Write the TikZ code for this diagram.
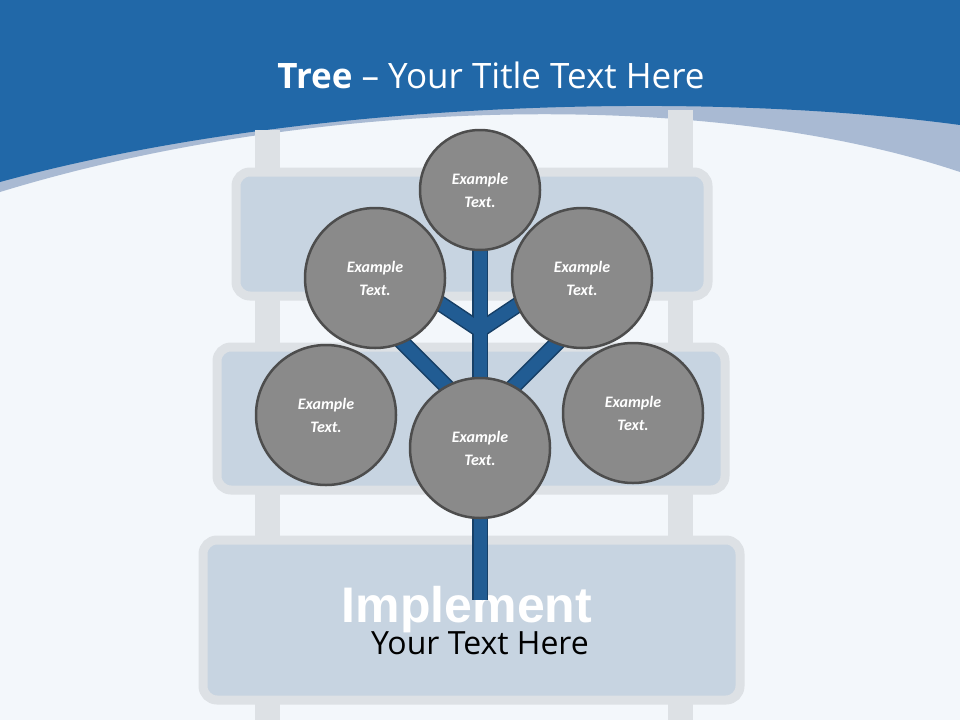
\documentclass[tikz,border=0pt]{standalone}
\usepackage{fontspec}
\setmainfont{Open Sans}
\newfontfamily\carlitofont{Carlito}
\newfontfamily\arialfont{Liberation Sans}
\definecolor{bgc}{HTML}{F3F7FB}
\definecolor{topblue}{HTML}{2168A8}
\definecolor{bandc}{HTML}{A9BAD3}
\definecolor{boardin}{HTML}{C7D4E1}
\definecolor{boardrim}{HTML}{DDE1E5}
\definecolor{trunkc}{HTML}{215C93}
\definecolor{circf}{HTML}{8A8A8A}
\definecolor{circb}{HTML}{4D4D4D}
\tikzset{
 board/.style={draw=boardrim,line width=9pt,fill=boardin,rounded corners=14pt},
 rail/.style={draw=none,fill=boardrim},
 branch/.style={draw=trunkc!70!black,line width=16pt},
 branchin/.style={draw=trunkc,line width=13pt},
 ball/.style={circle,draw=circb,line width=2.5pt,fill=circf,text=white,align=center,font=\carlitofont\bfseries\itshape\fontsize{16}{23}\selectfont,inner sep=0pt}
}
\begin{document}
\begin{tikzpicture}[x=1pt,y=-1pt]
\useasboundingbox (0,0) rectangle (960,720);
\fill[bgc] (0,0) rectangle (960,720);
% header
\fill[bandc] (0,0) -- (0,192) .. controls (300,100) and (700,85) .. (960,172) -- (960,0) -- cycle;
\fill[topblue] (0,0) -- (0,182) .. controls (300,100) and (700,90) .. (960,125) -- (960,0) -- cycle;
\node[text=white,font=\fontsize{35}{40}\selectfont] (title) at (491,75) {\textbf{Tree} -- Your Title Text Here};
% ladder
\fill[rail] (255,130) rectangle (280,720);
\fill[rail] (668,110) rectangle (693,720);
\draw[board] (236,172) rectangle (708,296);
\draw[board] (217,347) rectangle (725,490);
\draw[board] (203,540) rectangle (740,700);
\node[text=white,font=\arialfont\bfseries\fontsize{50}{54}\selectfont] (impl) at (467,610) {Implement};
% tree
\coordinate (top) at (480,200);
\coordinate (bot) at (480,600);
\coordinate (j1) at (480,330);
\coordinate (j2) at (480,420);
\coordinate (l1) at (420,290);
\coordinate (r1) at (540,290);
\coordinate (l2) at (390,330);
\coordinate (r2) at (570,330);
\foreach \s in {branch,branchin}{
 \draw[\s] (top) -- (bot);
 \draw[\s] (j1) -- (l1); \draw[\s] (j1) -- (r1);
 \draw[\s] (j2) -- (l2); \draw[\s] (j2) -- (r2);
}
\node[ball,minimum size=120pt] (c0) at (480,190) {Example\\Text.};
\node[ball,minimum size=140pt] (c1) at (375,278) {Example\\Text.};
\node[ball,minimum size=140pt] (c2) at (582,278) {Example\\Text.};
\node[ball,minimum size=140pt] (c3) at (326,415) {Example\\Text.};
\node[ball,minimum size=140pt] (c4) at (633,413) {Example\\Text.};
\node[ball,minimum size=140pt] (c5) at (480,448) {Example\\Text.};
\node[font=\fontsize{32}{36}\selectfont] (txt) at (480,643) {Your Text Here};
\end{tikzpicture}
\end{document}
